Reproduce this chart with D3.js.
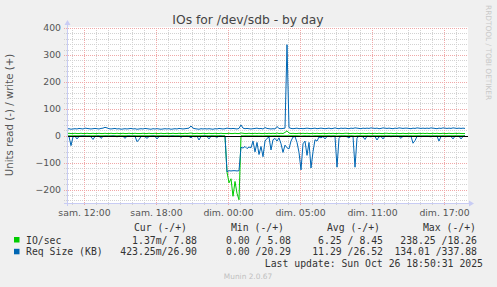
<!DOCTYPE html>
<html><head><meta charset="utf-8">
<script src="https://cdn.jsdelivr.net/npm/d3@7"></script>
<style>
html,body{margin:0;padding:0;background:#f0f0f0;}
svg{display:block;}
</style></head><body>
<svg id="chart" width="497" height="287"></svg>
<script>
// ---- data (one sample every 10 minutes, UTC) ----
const startTime = Date.UTC(2025, 9, 25, 8, 35);
const stepMinutes = 10;

const ioWrite = [
 8,9,8,8,9,8,8,9,8,8, 9,8,8,9,8,8,9,8,8,9, 8,8,9,8,8,9,8,8,9,8, 8,9,8,8,9,8,8,8,9,8,
 8,9,8,8,9,8,8,9,8,8, 9,8,8,9,8,8,9,8,8,9, 8,9,10,8,8,9,8,8,9,8, 8,9,8,8,9,8,8,9,8,8,
 8,9,8,8,9,8,8,10,9,8, 8,9,8,8,9,8,9,8,8,9, 8,9,8,9,8,10,8,9,8,12, 18,10,8,9,8,8,9,8,9,8,
 9,8,8,9,8,9,8,8,9,8, 8,9,8,9,8,8,9,8,8,9, 9,8,8,9,8,9,8,8,9,8, 8,9,8,8,9,8,9,8,8,9,
 9,8,9,8,8,9,8,8,9,8, 8,9,8,9,8,8,9,8,9,8, 9,8,8,9,8,9,8,8,9,8, 8,9,8,8,9,8,9,8,8,8
];
const ioRead = [
 0.3,0.2,0.5,0.3,0.2,0.4,0.3,0.2,0.3,0.2, 0.3,0.2,0.4,0.3,0.2,0.3,0.2,0.4,0.3,0.2,
 0.3,0.2,0.3,0.2,0.3,0.4,0.2,0.3,0.2,0.3, 0.2,0.3,0.2,0.3,0.2,0.5,0.3,0.2,0.3,0.2,
 0.3,0.2,0.3,0.2,0.3,0.4,0.2,0.3,0.2,0.3, 0.2,0.3,0.2,0.3,0.2,0.3,0.2,0.3,0.2,0.3,
 0.2,0.3,0.2,0.3,0.2,0.4,0.3,0.2,0.3,0.2, 0.3,0.4,0.2,0.3,0.2,0.3,0.2,0.3,0.2,0.3,
 135,175,160,225,170,214,238,0.4,0.5,0.4, 0.5,0.4,0.5,0.3,0.6,0.4,0.7,0.4,0.8,0.3,
 0.2,0.3,0.6,0.3,0.2,0.3,0.2,0.4,0.6,0.4, 0.5,0.5,0.3,0.2,0.2,0.3,0.6,1.2,0.4,0.3,
 0.7,0.3,1.1,0.6,0.2,0.3,0.2,0.2,0.2,0.3, 0.2,0.2,0.3,0.2,0.2,1.1,0.3,0.2,0.2,0.2,
 0.3,0.2,0.2,0.3,1.1,0.3,0.2,0.2,0.3,0.3, 0.2,0.3,0.2,0.2,0.3,0.3,0.2,0.2,0.3,0.2,
 0.3,0.2,0.3,0.2,0.3,0.2,0.3,0.2,0.2,0.3, 0.2,0.3,0.2,0.4,0.3,0.2,0.3,0.2,0.3,0.2,
 0.3,0.2,0.3,0.2,0.3,0.2,0.4,0.3,0.2,0.3, 0.2,0.3,0.2,0.3,0.2,0.3,0.2,0.3,0.2,0.0014
];
const reqWrite = [
 25,26,24,25,26,25,27,26,25,28, 27,26,25,26,27,26,25,27,28,31, 29,26,25,26,27,25,26,24,25,26,
 25,26,27,25,26,24,25,26,25,27, 26,25,24,26,25,26,25,24,25,26, 25,26,24,25,26,25,27,26,25,26,
 27,28,36,28,26,25,24,26,25,26, 25,26,25,24,26,25,27,26,25,26, 28,27,26,27,26,25,27,40,28,26,
 27,26,25,26,27,28,26,27,25,30, 27,26,25,26,25,34,27,26,27,28, 338,30,27,26,27,28,26,27,26,27,
 28,27,26,27,28,26,27,28,27,26, 27,28,26,27,29,27,26,28,27,28, 27,26,28,27,29,28,27,26,28,27,
 28,27,29,28,27,28,26,27,29,28, 27,28,27,26,28,27,29,28,27,28, 28,27,26,28,27,29,28,27,28,27,
 28,27,29,28,27,26,28,27,29,28, 27,28,27,29,28,27,28,27,28,26.9
];
const reqRead = [
 2,3,37,4,2,12,3,2,1,2, 3,2,4,14,3,2,1,10,3,2, 2,3,2,1,2,4,2,3,2,10, 2,1,3,2,2,22,15,3,2,4,
 10,3,2,1,2,12,3,2,2,3, 2,4,2,1,3,2,2,6,2,3, 2,3,8,2,4,2,16,3,2,1, 3,12,2,2,3,6,2,1,3,2,
 134,130,131,130,130,131,130,43,46,40, 48,42,45,20,60,25,70,40,78,20, 10,5,53,15,10,20,8,30,62,35,
 45,49,20,5,3,25,62,127,30,20, 73,25,120,60,15,20,5,8,3,12, 3,2,4,2,3,117,10,2,3,2,
 4,8,2,3,117,8,2,3,4,14, 2,3,4,2,3,16,4,3,12,2, 3,2,4,2,3,2,3,10,2,3,
 2,4,2,28,18,3,2,4,2,3, 2,3,4,2,3,2,20,3,2,4, 3,2,3,12,2,3,2,12,3,0.4
];

const tickTimes = ["2025-10-25T10:00Z","2025-10-25T16:00Z","2025-10-25T22:00Z",
                   "2025-10-26T04:00Z","2025-10-26T10:00Z","2025-10-26T16:00Z"];
const tickLabels = ["sam. 12:00","sam. 18:00","dim. 00:00","dim. 05:00","dim. 11:00","dim. 17:00"];
const yTicks = [-200,-100,0,100,200,300,400];

const legendNames = ["IO/sec","Req Size (KB)"];
const legendColors = ["#00cc00","#0066b3"];
const legendHeader = ["Cur (-/+)","Min (-/+)","Avg (-/+)","Max (-/+)"];
const legendCur = ["1.37m/ 7.88","423.25m/26.90"];
const legendMin = ["0.00 / 5.08","0.00 /20.29"];
const legendAvg = ["6.25 / 8.45","11.29 /26.52"];
const legendMax = ["238.25 /18.26","134.01 /337.88"];

// ---- drawing ----
const svg = d3.select("#chart");
const L = 67, R = 467, T = 28, B = 203;
const t0 = new Date(startTime);
const t1 = new Date(startTime + 400 * 5 * 60000);
const x = d3.scaleUtc().domain([t0, t1]).range([L, R]);
const y = d3.scaleLinear().domain([-250, 400]).range([B, T]);
const timeAt = i => new Date(startTime + i * stepMinutes * 60000);

svg.append("rect").attr("width", 497).attr("height", 287).attr("fill", "#f0f0f0");
svg.append("rect").attr("x", L).attr("y", T - 1).attr("width", R - L + 1).attr("height", B - T + 1).attr("fill", "#ffffff");

const grid = svg.append("g").attr("shape-rendering", "crispEdges");
grid.selectAll("line.hmin").data(d3.range(-240, 401, 20).filter(v => v % 100 !== 0)).join("line")
  .attr("x1", L - 3).attr("x2", R + 1)
  .attr("y1", d => Math.round(y(d)) + 0.5).attr("y2", d => Math.round(y(d)) + 0.5)
  .attr("stroke", "#d2d2d2").attr("stroke-dasharray", "1,1");
const hours = d3.utcHour.every(1).range(t0, t1);
grid.selectAll("line.vmin").data(hours).join("line")
  .attr("x1", d => Math.round(x(d)) + 0.5).attr("x2", d => Math.round(x(d)) + 0.5)
  .attr("y1", T).attr("y2", B + 2)
  .attr("stroke", "#d2d2d2").attr("stroke-dasharray", "1,1");
grid.selectAll("line.hmaj").data(yTicks.concat([400])).join("line")
  .attr("x1", L - 3).attr("x2", R + 1)
  .attr("y1", d => Math.round(y(d)) + 0.5).attr("y2", d => Math.round(y(d)) + 0.5)
  .attr("stroke", "#f0a8a8").attr("stroke-dasharray", "1,1");
const tickDates = tickTimes.map(s => new Date(s));
grid.selectAll("line.vmaj").data(tickDates).join("line")
  .attr("x1", d => Math.round(x(d)) + 0.5).attr("x2", d => Math.round(x(d)) + 0.5)
  .attr("y1", T).attr("y2", B + 3)
  .attr("stroke", "#f0a8a8").attr("stroke-dasharray", "1,1");

const fontSans = "'DejaVu Sans', sans-serif";
const fontMono = "'DejaVu Sans Mono', monospace";
const yAxis = svg.append("g").attr("transform", `translate(${L},0)`)
  .call(d3.axisLeft(y).tickValues(yTicks).tickSize(0).tickPadding(6));
yAxis.select(".domain").remove();
yAxis.selectAll("text").attr("font-family", fontSans).attr("font-size", 9.3).attr("fill", "#555");

const xAxis = svg.append("g").attr("transform", `translate(0,${B})`)
  .call(d3.axisBottom(x).tickValues(tickDates).tickFormat((d, i) => tickLabels[i]).tickSize(0).tickPadding(6));
xAxis.select(".domain").remove();
xAxis.selectAll("text").attr("font-family", fontSans).attr("font-size", 9.3).attr("fill", "#555");

svg.append("clipPath").attr("id", "plotclip").append("rect")
  .attr("x", L).attr("y", T - 1).attr("width", R - L + 1).attr("height", B - T + 1);
const plotG = svg.append("g").attr("clip-path", "url(#plotclip)");
const line = d3.line().x((d, i) => x(timeAt(i))).y(d => y(d));
const drawOrder = [
  {vals: ioRead.map(v => -v), color: legendColors[0]},
  {vals: reqRead.map(v => -v), color: legendColors[1]},
  {vals: reqWrite, color: legendColors[1]},
  {vals: ioWrite, color: legendColors[0]}
];
drawOrder.forEach(s => {
  plotG.append("path").attr("d", line(s.vals)).attr("fill", "none")
    .attr("stroke", s.color).attr("stroke-width", 1);
});

svg.append("line").attr("x1", L).attr("x2", R + 1)
  .attr("y1", Math.round(y(0)) + 0.5).attr("y2", Math.round(y(0)) + 0.5)
  .attr("stroke", "#000").attr("stroke-width", 1).attr("shape-rendering", "crispEdges");

const axisColor = "#c8ccf4";
svg.append("line").attr("x1", L + 0.5).attr("x2", L + 0.5).attr("y1", B + 3).attr("y2", T - 5)
  .attr("stroke", axisColor).attr("shape-rendering", "crispEdges");
svg.append("path").attr("d", `M${L - 2.5},${T - 3} L${L + 0.5},${T - 8} L${L + 3.5},${T - 3} Z`).attr("fill", axisColor);
svg.append("line").attr("x1", L - 3).attr("x2", R + 3).attr("y1", B + 0.5).attr("y2", B + 0.5)
  .attr("stroke", axisColor).attr("shape-rendering", "crispEdges");
svg.append("path").attr("d", `M${R + 2},${B - 2.5} L${R + 7},${B + 0.5} L${R + 2},${B + 3.5} Z`).attr("fill", axisColor);

svg.append("text").attr("x", 248).attr("y", 24).attr("text-anchor", "middle")
  .attr("font-family", fontSans).attr("font-size", 12.3).attr("fill", "#444")
  .text("IOs for /dev/sdb - by day");
svg.append("text").attr("transform", "translate(13,115) rotate(-90)").attr("text-anchor", "middle")
  .attr("font-family", fontSans).attr("font-size", 10.2).attr("fill", "#555")
  .text("Units read (-) / write (+)");
svg.append("text").attr("transform", "translate(486,5) rotate(90)").attr("text-anchor", "start")
  .attr("font-family", fontSans).attr("font-size", 7.4).attr("fill", "#c8c8c8")
  .text("RRDTOOL / TOBI OETIKER");

const hdrRight = [187, 284, 380, 476];
const colRight = [197, 291, 383, 477];
const leg = svg.append("g").attr("font-family", fontMono).attr("font-size", 9.8).attr("fill", "#333");
legendHeader.forEach((h, i) => {
  leg.append("text").attr("x", hdrRight[i]).attr("y", 231).attr("text-anchor", "end").text(h);
});
const rowsY = [243.5, 255.3];
const cols = [legendCur, legendMin, legendAvg, legendMax];
legendNames.forEach((name, r) => {
  svg.append("rect").attr("x", 14).attr("y", rowsY[r] - 6.5).attr("width", 5.5).attr("height", 5.5).attr("fill", legendColors[r]);
  leg.append("text").attr("x", 26).attr("y", rowsY[r]).text(name);
  cols.forEach((c, k) => {
    leg.append("text").attr("x", colRight[k]).attr("y", rowsY[r]).attr("text-anchor", "end").text(c[r]);
  });
});
leg.append("text").attr("x", 483).attr("y", 267).attr("text-anchor", "end").text("Last update: Sun Oct 26 18:50:31 2025");

svg.append("text").attr("x", 248).attr("y", 279).attr("text-anchor", "middle")
  .attr("font-family", fontSans).attr("font-size", 7.4).attr("fill", "#c0c0c0").text("Munin 2.0.67");
</script>
</body></html>
